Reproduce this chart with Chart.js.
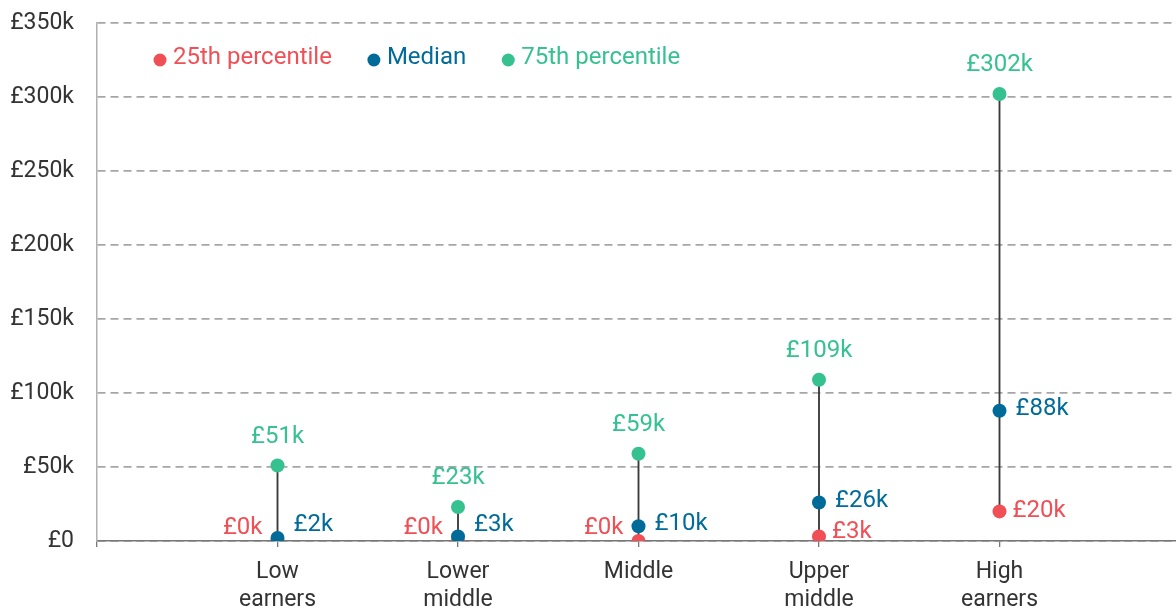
<!DOCTYPE html>
<html>
<head>
<meta charset="utf-8">
<script src="https://cdn.jsdelivr.net/npm/chart.js@4.4.1/dist/chart.umd.min.js"></script>
<style>
  html, body { margin: 0; padding: 0; background: #fff; overflow: hidden; }
</style>
</head>
<body>
<canvas id="wealthChart" width="1180" height="614"></canvas>
<script>
// Data (values in £k)
const categories = ['', ['Low', 'earners'], ['Lower', 'middle'], 'Middle', ['Upper', 'middle'], ['High', 'earners'], ''];
const p25 = [null, 0, 0, 0, 3, 20, null];
const median = [null, 2, 3, 10, 26, 88, null];
const p75 = [null, 51, 23, 59, 109, 302, null];
const yTicks = [0, 50, 100, 150, 200, 250, 300, 350];

const RED = '#ef4f55';
const BLUE = '#006b98';
const GREEN = '#36c190';
const FONT = 'Roboto, "Noto Sans", sans-serif';

// range line from 25th to 75th percentile
const ranges = p25.map((lo, i) => lo === null ? null : [lo, p75[i]]);

// value labels next to the dots
const pointLabels = {
  id: 'pointLabels',
  afterDatasetsDraw(chart) {
    const ctx = chart.ctx;
    const base = chart.scales.y.getPixelForValue(0);
    ctx.save();
    ctx.font = '24px ' + FONT;
    ctx.textBaseline = 'middle';
    chart.data.datasets.forEach((ds, di) => {
      if (!ds.labelPos) return;
      const meta = chart.getDatasetMeta(di);
      meta.data.forEach((pt, i) => {
        const v = ds.data[i];
        if (v === null || v === undefined) return;
        const text = '£' + v + 'k';
        ctx.fillStyle = ds.backgroundColor;
        if (ds.labelPos === 'above') {
          ctx.textAlign = 'center';
          ctx.fillText(text, pt.x, pt.y - 29);
        } else if (ds.labelPos === 'right') {
          ctx.textAlign = 'left';
          ctx.fillText(text, pt.x + 16, Math.min(pt.y - 2, base - 16));
        } else {
          if (v === 0) {
            ctx.textAlign = 'right';
            ctx.fillText(text, pt.x - 15, base - 13);
          } else {
            ctx.textAlign = 'left';
            ctx.fillText(text, pt.x + 13, Math.min(pt.y, base - 9));
          }
        }
      });
    });
    ctx.restore();
  }
};

// legend drawn inside the plot
const innerLegend = {
  id: 'innerLegend',
  afterDraw(chart) {
    const ctx = chart.ctx;
    const area = chart.chartArea;
    let x = area.left + 63;
    const y = area.top + 35;
    ctx.save();
    ctx.font = '24px ' + FONT;
    ctx.textBaseline = 'middle';
    ctx.textAlign = 'left';
    chart.data.datasets.filter(ds => ds.labelPos).forEach(ds => {
      ctx.fillStyle = ds.backgroundColor;
      ctx.beginPath();
      ctx.arc(x, y + 2, 6.5, 0, Math.PI * 2);
      ctx.fill();
      ctx.fillText(ds.label, x + 13, y);
      x += 13 + ctx.measureText(ds.label).width + 42;
    });
    ctx.restore();
  }
};

function dots(label, data, color, pos, order) {
  return {
    type: 'line',
    label: label,
    data: data,
    showLine: false,
    backgroundColor: color,
    borderColor: color,
    pointRadius: 7,
    pointHoverRadius: 7,
    pointBorderWidth: 0,
    labelPos: pos,
    order: order
  };
}

new Chart(document.getElementById('wealthChart'), {
  type: 'bar',
  data: {
    labels: categories,
    datasets: [
      dots('25th percentile', p25, RED, 'side', 2),
      dots('Median', median, BLUE, 'right', 1),
      dots('75th percentile', p75, GREEN, 'above', 0),
      {
        type: 'bar',
        label: 'range',
        data: ranges,
        backgroundColor: '#3a3a3a',
        barThickness: 1.2,
        order: 3
      }
    ]
  },
  options: {
    responsive: false,
    animation: false,
    devicePixelRatio: 1,
    layout: { autoPadding: false, padding: { top: 23, left: 0, right: 0, bottom: 0 } },
    plugins: {
      legend: { display: false },
      tooltip: { enabled: false }
    },
    scales: {
      x: {
        offset: false,
        grid: { display: true, drawOnChartArea: false, drawTicks: true, tickLength: 6, color: '#777', lineWidth: 1.3, offset: false },
        border: { display: true, color: '#777', width: 1.5 },
        ticks: { color: '#333', font: { family: FONT, size: 23, lineHeight: 1.22 }, padding: 11, maxRotation: 0, autoSkip: false },
        afterFit(scale) {
          scale.height = 73;
          scale.paddingLeft = 0;
          scale.paddingRight = 0;
        }
      },
      y: {
        min: 0,
        max: 350,
        afterBuildTicks(scale) { scale.ticks = yTicks.map(v => ({ value: v })); },
        grid: { color: '#a6a6a6', lineWidth: 1.7, drawTicks: false },
        border: { display: true, color: '#b0b0b0', width: 1.5, dash: [8, 5] },
        ticks: {
          color: '#333',
          padding: 23,
          font: { family: FONT, size: 23 },
          callback: v => v === 0 ? '£0' : '£' + v + 'k'
        },
        afterFit(scale) {
          scale.width = 97;
          scale.paddingTop = 0;
          scale.paddingBottom = 0;
        }
      }
    }
  },
  plugins: [pointLabels, innerLegend]
});
</script>
</body>
</html>
